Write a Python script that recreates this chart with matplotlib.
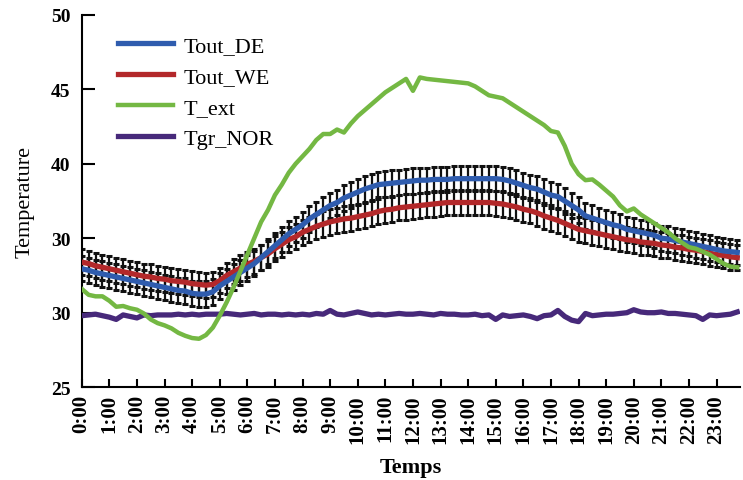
import numpy as np
import matplotlib
matplotlib.use("Agg")
import matplotlib.pyplot as plt

plt.rcParams['font.family'] = ['Liberation Serif', 'DejaVu Serif']

# quarter-hour readings, 0:00 .. 23:45
hours = np.arange(96) / 4.0

tout_de = [32.95, 32.85, 32.7, 32.6, 32.5, 32.4, 32.3, 32.2,
           32.1, 32.0, 31.9, 31.8, 31.7, 31.6, 31.5, 31.45,
           31.3, 31.25, 31.25, 31.4, 31.8, 32.1, 32.4, 32.7,
           33.0, 33.3, 33.7, 34.1, 34.5, 34.9, 35.3, 35.6,
           35.9, 36.3, 36.6, 36.9, 37.2, 37.4, 37.7, 37.9,
           38.1, 38.3, 38.45, 38.6, 38.65, 38.7, 38.75, 38.8,
           38.85, 38.9, 38.9, 38.95, 38.95, 38.95, 39.0, 39.0,
           39.0, 39.0, 39.0, 39.0, 39.0, 38.95, 38.85, 38.7,
           38.55, 38.4, 38.3, 38.1, 37.9, 37.8, 37.5, 37.2,
           36.9, 36.5, 36.35, 36.2, 36.05, 35.9, 35.8, 35.6,
           35.5, 35.4, 35.3, 35.2, 35.0, 34.95, 34.85, 34.75,
           34.65, 34.55, 34.45, 34.35, 34.25, 34.15, 34.1, 34.05]

tout_we = [33.4, 33.3, 33.15, 33.05, 32.95, 32.85, 32.75, 32.65,
           32.55, 32.45, 32.4, 32.3, 32.25, 32.15, 32.1, 32.05,
           31.95, 31.9, 31.85, 31.9, 32.15, 32.5, 32.75, 33.0,
           33.25, 33.45, 33.7, 33.95, 34.3, 34.6, 34.9, 35.1,
           35.4, 35.6, 35.8, 35.95, 36.1, 36.2, 36.3, 36.35,
           36.45, 36.55, 36.65, 36.8, 36.9, 36.95, 37.05, 37.1,
           37.15, 37.2, 37.25, 37.3, 37.35, 37.4, 37.4, 37.4,
           37.4, 37.4, 37.4, 37.4, 37.35, 37.3, 37.2, 37.1,
           36.95, 36.85, 36.7, 36.5, 36.35, 36.2, 36.0, 35.8,
           35.6, 35.5, 35.4, 35.3, 35.2, 35.1, 35.0, 34.9,
           34.85, 34.75, 34.7, 34.65, 34.55, 34.5, 34.4, 34.35,
           34.25, 34.2, 34.1, 34.0, 33.9, 33.85, 33.75, 33.7]

t_ext = [31.6, 31.2, 31.1, 31.1, 30.8, 30.4, 30.45, 30.3,
         30.2, 29.95, 29.55, 29.3, 29.15, 28.95, 28.65, 28.45,
         28.3, 28.25, 28.5, 29.0, 29.8, 30.7, 31.7, 32.8,
         33.9, 35.0, 36.1, 36.9, 37.9, 38.6, 39.4, 40.0,
         40.5, 41.0, 41.6, 42.0, 42.0, 42.3, 42.1, 42.7,
         43.2, 43.6, 44.0, 44.4, 44.8, 45.1, 45.4, 45.7,
         44.9, 45.8, 45.7, 45.65, 45.6, 45.55, 45.5, 45.45,
         45.4, 45.2, 44.9, 44.6, 44.5, 44.4, 44.1, 43.8,
         43.5, 43.2, 42.9, 42.6, 42.2, 42.1, 41.2, 40.0,
         39.3, 38.9, 38.95, 38.6, 38.2, 37.8, 37.2, 36.8,
         37.0, 36.6, 36.3, 36.0, 35.7, 35.4, 35.0, 34.7,
         34.4, 34.3, 34.1, 33.9, 33.6, 33.3, 33.1, 33.05]

tgr_nor = [29.8, 29.85, 29.9, 29.8, 29.7, 29.55, 29.85, 29.75,
           29.65, 29.85, 29.8, 29.85, 29.85, 29.85, 29.9, 29.85,
           29.9, 29.85, 29.9, 29.9, 29.9, 29.95, 29.9, 29.85,
           29.9, 29.95, 29.85, 29.9, 29.9, 29.85, 29.9, 29.85,
           29.9, 29.85, 29.95, 29.9, 30.15, 29.9, 29.85, 29.95,
           30.05, 29.95, 29.85, 29.9, 29.85, 29.9, 29.95, 29.9,
           29.9, 29.95, 29.9, 29.85, 29.95, 29.9, 29.9, 29.85,
           29.85, 29.9, 29.8, 29.85, 29.55, 29.85, 29.75, 29.8,
           29.85, 29.75, 29.6, 29.8, 29.85, 30.15, 29.75, 29.5,
           29.4, 29.95, 29.8, 29.85, 29.9, 29.9, 29.95, 30.0,
           30.2, 30.05, 30.0, 30.0, 30.05, 29.95, 29.95, 29.9,
           29.85, 29.8, 29.55, 29.85, 29.8, 29.85, 29.9, 30.05]

err = 0.85

tick_hours = list(range(24))
tick_labels = ['%d:00' % h for h in tick_hours]
y_ticks = [25, 30, 35, 40, 45, 50]
y_labels = ['25', '30', '30', '40', '45', '50']  # as printed on the original

fig = plt.figure(figsize=(7.43, 4.81), dpi=100)
ax = fig.add_axes([0.110, 0.193, 0.886, 0.774])

# black error bars first, coloured lines over them
for series in [tout_we, tout_de]:
    ax.errorbar(hours, series, yerr=err, fmt='none', ecolor='#111111',
                elinewidth=1.6, capsize=2.5, capthick=2.2, zorder=2)

ax.plot(hours, tout_de, color='#2f5cae', lw=3.8, label='Tout_DE', zorder=4)
ax.plot(hours, tout_we, color='#b3282a', lw=3.8, label='Tout_WE', zorder=3)
ax.plot(hours, t_ext, color='#74b843', lw=3.2, label='T_ext', zorder=5)
ax.plot(hours, tgr_nor, color='#47297a', lw=3.8, label='Tgr_NOR', zorder=3)

ax.set_xlim(0, 23.85)
ax.set_ylim(25, 50)
ax.set_xticks(tick_hours)
ax.set_xticklabels(tick_labels, rotation=90, fontsize=15, fontweight='bold')
ax.set_yticks(y_ticks)
ax.set_yticklabels(y_labels, fontsize=14, fontweight='bold')
ax.tick_params(axis='y', direction='in', length=9, width=1.5, pad=8)
ax.tick_params(axis='x', direction='in', length=6, width=1.5, pad=5)

for side in ['top', 'right']:
    ax.spines[side].set_visible(False)
for side in ['left', 'bottom']:
    ax.spines[side].set_linewidth(1.5)

ax.set_xlabel('Temps', fontsize=16, fontweight='bold', labelpad=10)
ax.set_ylabel('Temperature', fontsize=16, labelpad=12)

ax.legend(loc='upper left', bbox_to_anchor=(0.055, 0.945), frameon=False,
          fontsize=16, handlelength=2.5, handletextpad=0.45,
          labelspacing=0.47, borderpad=0, borderaxespad=0)

fig.savefig('out.png', dpi=100)
